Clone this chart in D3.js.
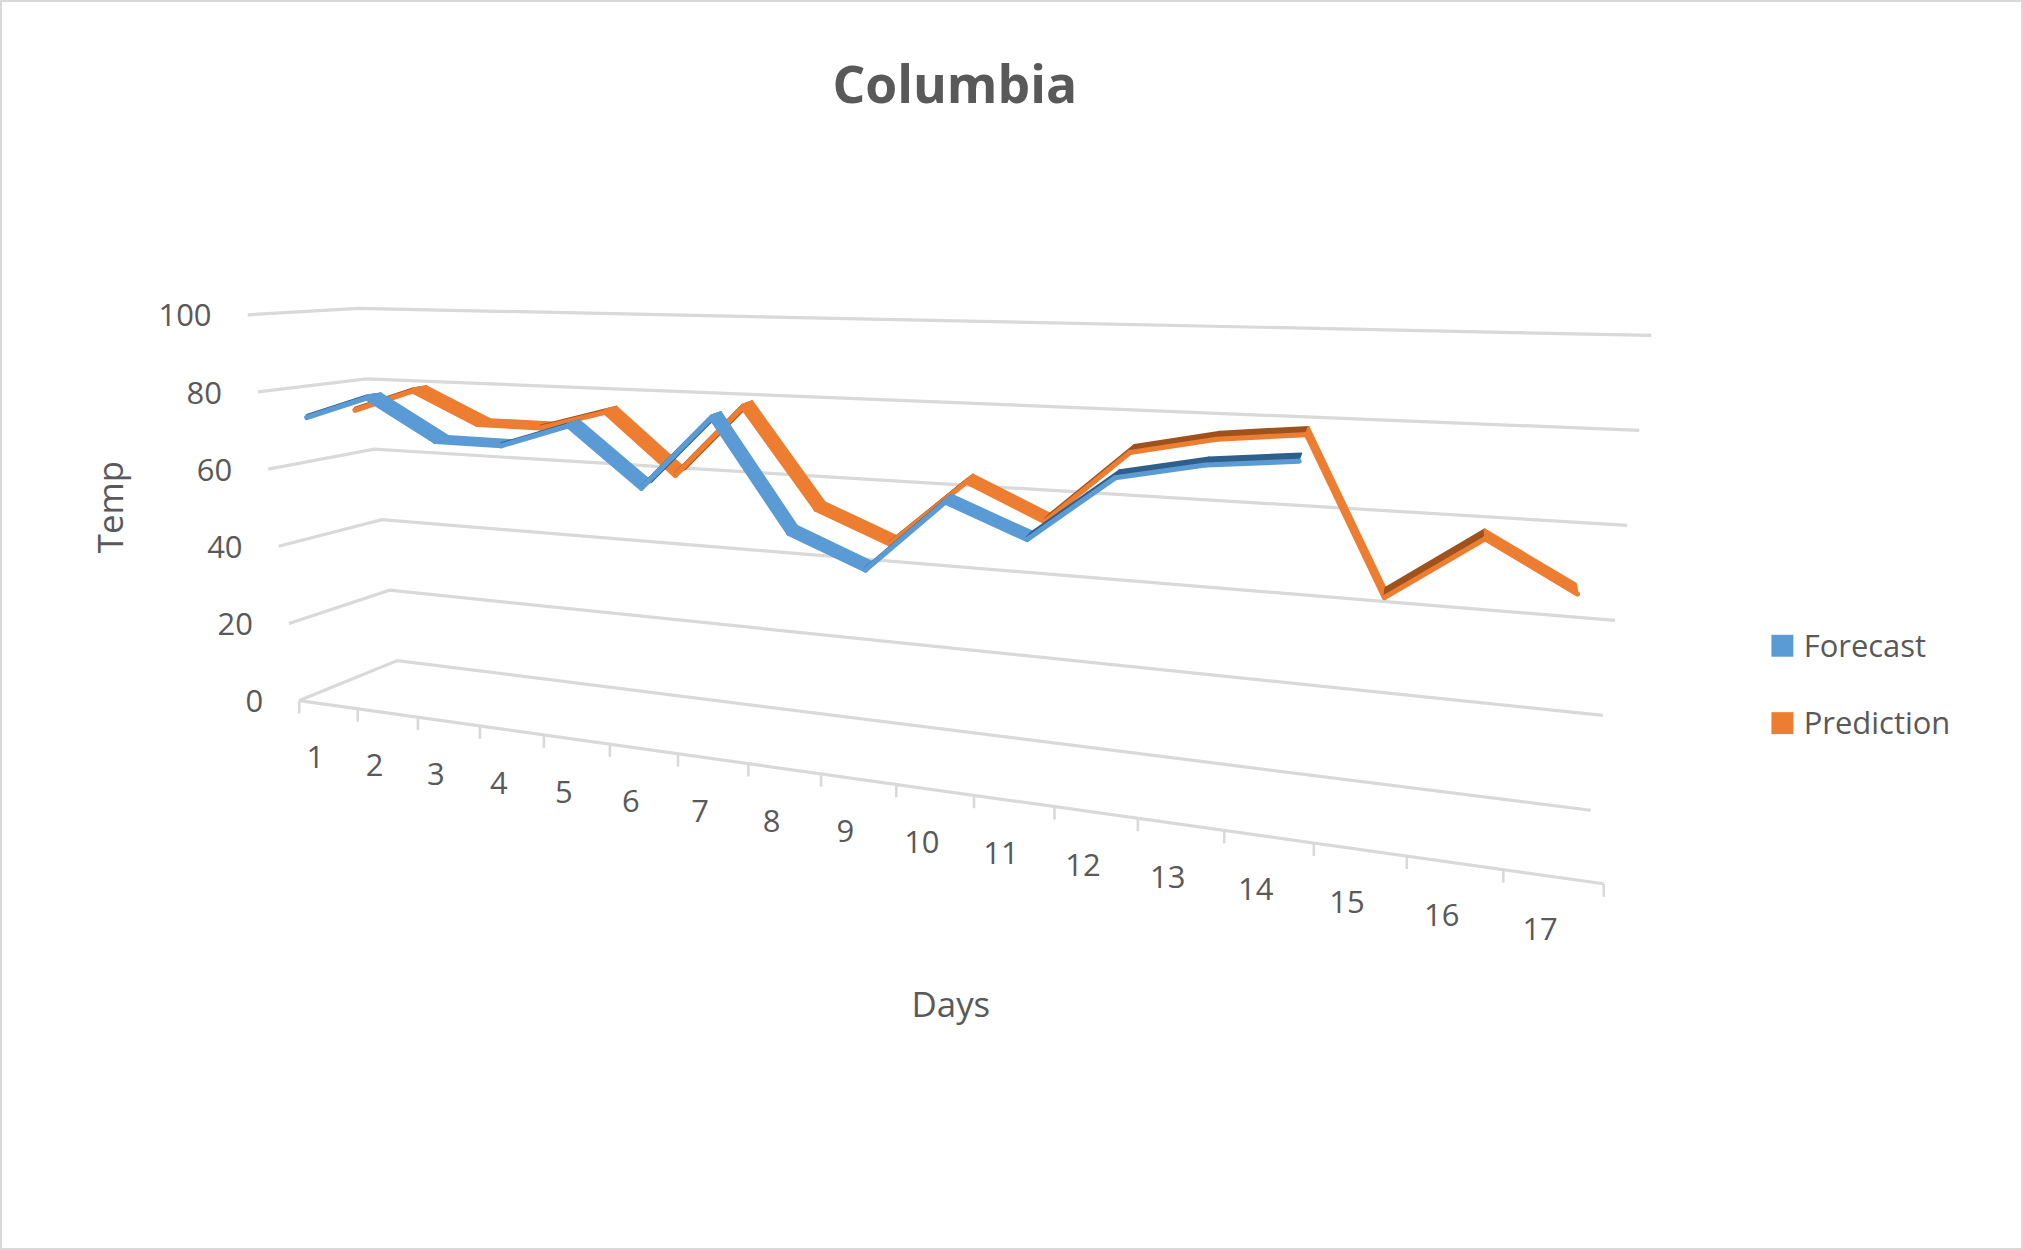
<!DOCTYPE html>
<html><head><meta charset="utf-8">
<script src="https://cdn.jsdelivr.net/npm/d3@7"></script>
<style>body{margin:0;background:#fff;font-family:"Open Sans","Liberation Sans",sans-serif;}</style>
</head><body>
<svg id="chart" width="2023" height="1250"></svg>
<script>
var days = d3.range(1, 18);
var valueTicks = [0, 20, 40, 60, 80, 100];
var forecast = [74, 80, 70, 70, 76, 62, 80, 54, 47, 64, 57, 72, 76, 78];
var prediction = [74, 80, 72, 72, 77, 62, 80, 56, 49, 65, 57, 74, 78, 80, 46, 60, 50];

var k = 2023 / 1568;
var svg = d3.select("#chart");
svg.append("rect").attr("x", 1).attr("y", 1).attr("width", 2021).attr("height", 1248)
  .attr("fill", "#fff").attr("stroke", "#d9d9d9").attr("stroke-width", 2);
var g = svg.append("g").attr("transform", "scale(" + k + ")");

var x = d3.scaleLinear().domain([0.5, 17.5]).range([0, 1]);
var y = d3.scaleLinear().domain([0, 100]).range([0, 1]);
// perspective foreshortening along the category axis
function persp(t) { return 0.75 * t / (1 - 0.25 * t); }

function lerp(a, b, t) { return [a[0] + (b[0] - a[0]) * t, a[1] + (b[1] - a[1]) * t]; }
var FL0 = [232, 543], FL1 = [192, 244], FR0 = [1243, 685], FR1 = [1295, 290];
var BL0 = [308, 512], BL1 = [278, 239], BR0 = [1233, 628], BR1 = [1280, 260];
function proj(t, v, z) {
  t = persp(t);
  var fl = lerp(FL0, FL1, v), fr = lerp(FR0, FR1, v);
  var bl = lerp(BL0, BL1, v), br = lerp(BR0, BR1, v);
  return lerp(lerp(fl, fr, t), lerp(bl, br, t), z);
}

valueTicks.forEach(function (v) {
  var a = proj(0, y(v), 0), b = proj(0, y(v), 1), c = proj(1, y(v), 1);
  g.append("polyline").attr("points", [a, b, c].map(function (p) { return p.join(","); }).join(" "))
    .attr("fill", "none").attr("stroke", "#d9d9d9").attr("stroke-width", 2.5);
  g.append("text").attr("x", a[0] - 28).attr("y", a[1] + 9).attr("text-anchor", "end")
    .attr("font-size", 24).attr("fill", "#595959").text(v);
});

var e0 = proj(0, 0, 0), e1 = proj(1, 0, 0);
g.append("line").attr("x1", e0[0]).attr("y1", e0[1]).attr("x2", e1[0]).attr("y2", e1[1])
  .attr("stroke", "#d9d9d9").attr("stroke-width", 2.5);
d3.range(0, 18).forEach(function (i) {
  var p = proj(x(i + 0.5), 0, 0);
  g.append("line").attr("x1", p[0]).attr("y1", p[1]).attr("x2", p[0]).attr("y2", p[1] + 10)
    .attr("stroke", "#d9d9d9").attr("stroke-width", 2);
});
days.forEach(function (d) {
  var p = proj(x(d), 0, 0);
  g.append("text").attr("x", p[0] - 10).attr("y", p[1] + 49).attr("text-anchor", "middle")
    .attr("font-size", 24).attr("fill", "#595959").text(d);
});

function ribbon(data, z0, z1, color, dark) {
  for (var i = 0; i < data.length - 1; i++) {
    var t0 = x(i + 1), t1 = x(i + 2);
    var a = proj(t0, y(data[i]), z0), b = proj(t1, y(data[i + 1]), z0),
        c = proj(t1, y(data[i + 1]), z1), d = proj(t0, y(data[i]), z1);
    var up = data[i + 1] > data[i];
    g.append("polygon").attr("points", [a, b, c, d].map(function (p) { return p.join(","); }).join(" "))
      .attr("fill", up ? dark : color).attr("stroke", up ? dark : color).attr("stroke-width", 1.5)
      .attr("stroke-linejoin", "round");
    g.append("line").attr("x1", a[0]).attr("y1", a[1] + 2).attr("x2", b[0]).attr("y2", b[1] + 2)
      .attr("stroke", color).attr("stroke-width", 4).attr("stroke-linecap", "round");
  }
}
ribbon(prediction, 0.6, 0.74, "#ED7D31", "#A0521C");
ribbon(forecast, 0.14, 0.28, "#5B9BD5", "#2F5F8A");

g.append("text").attr("x", 740).attr("y", 80).attr("text-anchor", "middle").attr("font-size", 40)
  .attr("font-weight", "bold").attr("fill", "#595959").text("Columbia");
g.append("text").attr("transform", "translate(95,393) rotate(-90)").attr("text-anchor", "middle")
  .attr("font-size", 27).attr("fill", "#595959").text("Temp");
g.append("text").attr("x", 737).attr("y", 788).attr("text-anchor", "middle")
  .attr("font-size", 27).attr("fill", "#595959").text("Days");

[["Forecast", "#5B9BD5"], ["Prediction", "#ED7D31"]].forEach(function (l, i) {
  g.append("rect").attr("x", 1373).attr("y", 492 + i * 60).attr("width", 17).attr("height", 17).attr("fill", l[1]);
  g.append("text").attr("x", 1398).attr("y", 509 + i * 60).attr("font-size", 24).attr("fill", "#595959").text(l[0]);
});
</script>
</body></html>
